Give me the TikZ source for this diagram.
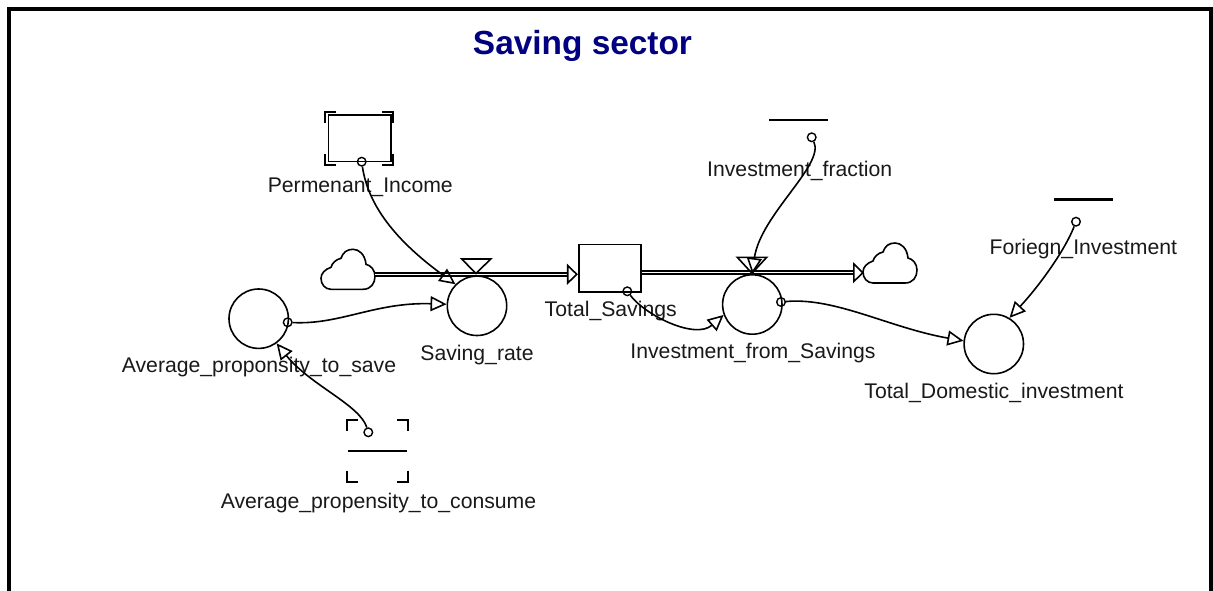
\documentclass[tikz,border=0pt]{standalone}
\usepackage{fontspec}
\setmainfont{Liberation Sans}
\usetikzlibrary{arrows.meta,calc}
\definecolor{titleblue}{RGB}{0,0,128}
\tikzset{
  x=1pt,y=-1pt,
  aux/.style={circle,draw,fill=none,minimum size=8.6pt,inner sep=0pt,line width=1.4pt},
  conv/.style={circle,draw,minimum size=59.4pt,inner sep=0pt,line width=1.6pt},
  stockbox/.style={rectangle,draw,inner sep=0pt,line width=1.6pt},
  lab/.style={font=\fontsize{21.2}{24}\selectfont,text=black!90,anchor=base,inner sep=0pt},
  link/.style={line width=1.6pt,-{Triangle[open,length=16pt,width=15pt,line width=1.6pt]}},
  pipe/.style={double,double distance=1.5pt,line width=1.5pt},
  flowhead/.style={line width=1.6pt,-{Triangle[open,length=11pt,width=21pt,line width=1.6pt]}},
  bracket/.style={line width=2pt},
  solver/.style={line width=2.4pt},
  valve/.style={line width=1.6pt},
  pics/cloudshape/.style={code={
    \draw[line width=1.6pt] (10,40) -- (42,40) .. controls (50,40) and (54,34) .. (54,27)
      .. controls (54,21) and (50,16) .. (45,15) .. controls (44,5) and (38,0) .. (32,0)
      .. controls (26,0) and (22,3) .. (20,9) .. controls (15,10) and (11,14) .. (10,18)
      .. controls (4,20) and (0,24) .. (0,29) .. controls (0,35) and (4,40) .. (10,40) -- cycle;
  }}
}
\newcommand{\corners}[4]{% x1 y1 x2 y2
  \draw[bracket] (#1+11,#2) -- (#1,#2) -- (#1,#2+11);
  \draw[bracket] (#3-11,#2) -- (#3,#2) -- (#3,#2+11);
  \draw[bracket] (#1,#4-11) -- (#1,#4) -- (#1+11,#4);
  \draw[bracket] (#3,#4-11) -- (#3,#4) -- (#3-11,#4);
}
\begin{document}
\begin{tikzpicture}
\useasboundingbox (0,0) rectangle (1213,591);
\fill[white] (0,0) rectangle (1213,591);
% frame
\draw[line width=4pt] (9,591) -- (9,9) -- (1210.5,9) -- (1210.5,591);
\node[font=\bfseries\fontsize{33.4}{36}\selectfont,text=titleblue,inner sep=0pt,anchor=base] (title) at (582.5,55) {Saving sector};

% labels
\node[lab] (lIncome) at (360.3,193) {Permenant\_Income};
\node[lab] (lFrac) at (799.7,176) {Investment\_fraction};
\node[lab] (lFor) at (1083.3,254) {Foriegn\_Investment};
\node[lab] (lSav) at (610.7,316.7) {Total\_Savings};
\node[lab] (lRate) at (477,360.3) {Saving\_rate};
\node[lab] (lInv) at (753,358.8) {Investment\_from\_Savings};
\node[lab] (lSave) at (259,372.3) {Average\_proponsity\_to\_save};
\node[lab] (lDom) at (994,398.3) {Total\_Domestic\_investment};
\node[lab] (lCons) at (378.5,508.3) {Average\_propensity\_to\_consume};

% clouds
\pic at (321,249.3) {cloudshape};
\pic at (863,243) {cloudshape};
\coordinate (cloudA) at (375,274.3);
\coordinate (cloudB) at (864,272.7);

% stocks
\node[stockbox,minimum width=62pt,minimum height=47.4pt] (savings) at (609.7,268) {};
\node[stockbox,minimum width=62.4pt,minimum height=46.7pt] (income) at (359.5,138.3) {};
\corners{325.3}{111.7}{393.3}{165}

% converters
\node[conv] (rate) at (477,305.8) {};
\node[conv] (propsave) at (258.7,318.7) {};
\node[conv] (invest) at (752.3,304.5) {};
\node[conv] (domestic) at (993.8,344) {};

% constants
\coordinate (fracL) at (769,120); \coordinate (fracR) at (827.7,120);
\draw[solver] (fracL) -- (fracR);
\coordinate (forL) at (1054,199.3); \coordinate (forR) at (1112.7,199.3);
\draw[solver] (forL) -- (forR);
\coordinate (consL) at (348.3,450.7); \coordinate (consR) at (406.7,450.7);
\draw[solver] (consL) -- (consR);
\corners{346.7}{420}{408.3}{481.7}

% flows
\coordinate (tipA) at (savings.west|-cloudA);
\coordinate (baseA) at ($(tipA)+(-11,0)$);
\coordinate (baseB) at ($(cloudB)+(-11,0)$);
\draw[pipe] (cloudA) -- (baseA);
\draw[flowhead] (baseA) -- (tipA);
\draw[pipe] (savings.east|-cloudB) -- (baseB);
\draw[flowhead] (baseB) -- (cloudB);

% valves
\draw[valve] (461.7,259) -- (490.7,259) -- (476,273.5) -- cycle;
\draw[valve] (737.3,257.3) -- (766.7,257.3) -- (752,273.3) -- cycle;

% connector origins
\node[aux] (oIncome) at (361.7,161.7) {};
\node[aux] (oSave) at (287.7,322.3) {};
\node[aux] (oFrac) at (811.7,137.3) {};
\node[aux] (oFor) at (1076,221.7) {};
\node[aux] (oCons) at (368.3,432.3) {};
\node[aux] (oSav) at (627.3,291.3) {};
\node[aux] (oInv) at (781,302) {};

% connectors
\draw[link] (oIncome) .. controls (368,205) and (395,240) .. (rate.135);
\draw[link] (oSave) .. controls (340,325) and (375,302) .. (rate.177);
\draw[link] (oFrac) .. controls (825,165) and (760,215) .. (invest.90);
\draw[link] (oSav) .. controls (645,315) and (695,340) .. (invest.200);
\draw[link] (oInv) .. controls (835,297) and (890,328) .. (domestic.174);
\draw[link] (oFor) .. controls (1065,250) and (1040,285) .. (domestic.59);
\draw[link] (oCons) .. controls (360,405) and (310,385) .. (propsave.306);
\end{tikzpicture}
\end{document}
